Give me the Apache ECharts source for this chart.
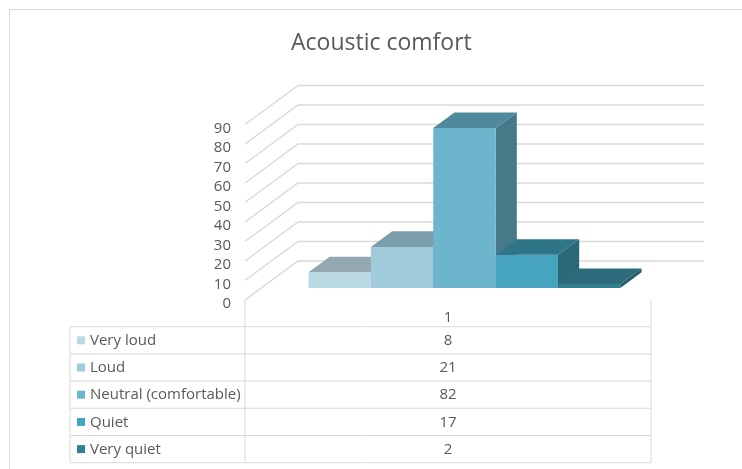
<!DOCTYPE html>
<html>
<head>
<meta charset="utf-8">
<script src="https://cdn.jsdelivr.net/npm/echarts@6/dist/echarts.min.js"></script>
<style>
  html, body { margin: 0; padding: 0; background: #ffffff; }
  #chart { width: 742px; height: 469px; }
</style>
</head>
<body>
<div id="chart"></div>
<script>
// Survey answers on acoustic comfort, one category with five answer series
const categories = ['1'];
const seriesNames = ['Very loud', 'Loud', 'Neutral (comfortable)', 'Quiet', 'Very quiet'];
const seriesValues = [8, 21, 82, 17, 2];
const yTicks = [0, 10, 20, 30, 40, 50, 60, 70, 80, 90];

// face colours per series
const frontColors = ['#b9dae4', '#9fcbdb', '#6db5cd', '#46a4bf', '#30808f'];
const topColors = ['#93a8b0', '#7b9dac', '#4f899c', '#2f7588', '#2c6b7b'];
const sideColors = ['#7f939b', '#6a8997', '#477a89', '#2a6878', '#255d6c'];

// depth vector of the 3D floor (screen px) and bar placement within it
const DEPTH = [53, -39];
const BAR_FRONT = 0.31;   // fraction of depth where bar fronts sit
const BAR_DEPTH = 0.40;   // fraction of depth taken by the bars
const CLUSTER = 0.768;    // share of the category band used by the bars

const chart = echarts.init(document.getElementById('chart'), null, { renderer: 'canvas' });

const gridLeft = 245, gridRight = 91, gridTop = 124.5, gridBottom = 169;
const rowH = 27.2;
const tableTop = 300 + 26.7;
const tableLeft = 70;
const rightX = 742 - gridRight;
const textColor = '#595959';
const lineColor = '#d9d9d9';
const fontFam = '"Open Sans", "Noto Sans", sans-serif';

// data table: rows with legend keys and values
const tableGraphics = [];
// outer frame
tableGraphics.push({
  type: 'rect', shape: { x: 9.5, y: 9.5, width: 760, height: 500 },
  style: { fill: 'none', stroke: '#d9d9d9', lineWidth: 1 }, silent: true
});
// vertical lines of the header row and body
tableGraphics.push({ type: 'line', shape: { x1: gridLeft, y1: 300, x2: gridLeft, y2: tableTop + rowH * seriesNames.length }, style: { stroke: lineColor, lineWidth: 1 } });
tableGraphics.push({ type: 'line', shape: { x1: rightX, y1: 300, x2: rightX, y2: tableTop + rowH * seriesNames.length }, style: { stroke: lineColor, lineWidth: 1 } });
tableGraphics.push({ type: 'line', shape: { x1: tableLeft, y1: tableTop, x2: tableLeft, y2: tableTop + rowH * seriesNames.length }, style: { stroke: lineColor, lineWidth: 1 } });
for (let r = 0; r <= seriesNames.length; r++) {
  const y = tableTop + rowH * r;
  tableGraphics.push({ type: 'line', shape: { x1: tableLeft, y1: y, x2: rightX, y2: y }, style: { stroke: lineColor, lineWidth: 1 } });
}
seriesNames.forEach(function (name, r) {
  const cy = tableTop + rowH * r + rowH / 2 + 0.5;
  tableGraphics.push({ type: 'rect', shape: { x: 77, y: cy - 4.5, width: 8, height: 8 }, style: { fill: frontColors[r] } });
  tableGraphics.push({ type: 'text', x: 90, y: cy, style: { text: name, fill: textColor, font: '15px ' + fontFam, verticalAlign: 'middle' } });
  tableGraphics.push({ type: 'text', x: (gridLeft + rightX) / 2, y: cy, style: { text: String(seriesValues[r]), fill: textColor, font: '15px ' + fontFam, align: 'center', verticalAlign: 'middle' } });
});

function add(p, k) { return [p[0] + DEPTH[0] * k, p[1] + DEPTH[1] * k]; }

const option = {
  animation: false,
  backgroundColor: '#ffffff',
  title: {
    text: 'Acoustic comfort', left: 286, top: 27,
    textStyle: { color: textColor, fontSize: 23, fontWeight: 'normal', fontFamily: fontFam }
  },
  grid: { left: gridLeft, right: gridRight, top: gridTop, bottom: gridBottom },
  xAxis: {
    type: 'category', data: categories,
    axisLine: { show: false }, axisTick: { show: false }, splitLine: { show: false },
    axisLabel: { color: textColor, fontSize: 15, fontFamily: fontFam, margin: 10 }
  },
  yAxis: {
    type: 'value', min: 0, max: 90, interval: 10,
    axisLine: { show: false }, axisTick: { show: false }, splitLine: { show: false },
    axisLabel: {
      color: textColor, fontSize: 15, fontFamily: fontFam, margin: 14,
      verticalAlign: 'top', lineHeight: 8
    }
  },
  graphic: tableGraphics,
  series: [
    {
      // back wall gridlines with their slanted side-wall segments
      type: 'custom', z: 1, silent: true,
      data: yTicks.map(function (v) { return [0, v]; }),
      renderItem: function (params, api) {
        const p = api.coord([api.value(0), api.value(1)]);
        const band = api.size([1, 0])[0];
        const fl = [p[0] - band / 2, p[1]];
        const bl = add(fl, 1);
        const br = [bl[0] + band, bl[1]];
        return {
          type: 'polyline',
          shape: { points: [fl, bl, br] },
          style: { stroke: lineColor, lineWidth: 1.3, fill: 'none' }
        };
      }
    },
    {
      // 3D columns: front, top and right side faces
      type: 'custom', z: 2, silent: true,
      data: seriesValues.map(function (v, i) { return [0, v, i]; }),
      renderItem: function (params, api) {
        const cat = api.value(0), v = api.value(1), i = api.value(2);
        const base = api.coord([cat, 0]);
        const top = api.coord([cat, v]);
        const band = api.size([1, 0])[0];
        const w = band * CLUSTER / seriesValues.length;
        const x0 = base[0] - band * CLUSTER / 2 + i * w;
        const fBL = add([x0, base[1]], BAR_FRONT);
        const fBR = [fBL[0] + w, fBL[1]];
        const fTL = add([x0, top[1]], BAR_FRONT);
        const fTR = [fTL[0] + w, fTL[1]];
        const bTL = add(fTL, BAR_DEPTH);
        const bTR = add(fTR, BAR_DEPTH);
        const bBR = add(fBR, BAR_DEPTH);
        return {
          type: 'group',
          children: [
            { type: 'polygon', shape: { points: [fTR, bTR, bBR, fBR] }, style: { fill: sideColors[i] } },
            { type: 'polygon', shape: { points: [fBL, fBR, fTR, fTL] }, style: { fill: frontColors[i] } },
            { type: 'polygon', shape: { points: [fTL, fTR, bTR, bTL] }, style: { fill: topColors[i] } }
          ]
        };
      }
    }
  ]
};

chart.setOption(option);
</script>
</body>
</html>
